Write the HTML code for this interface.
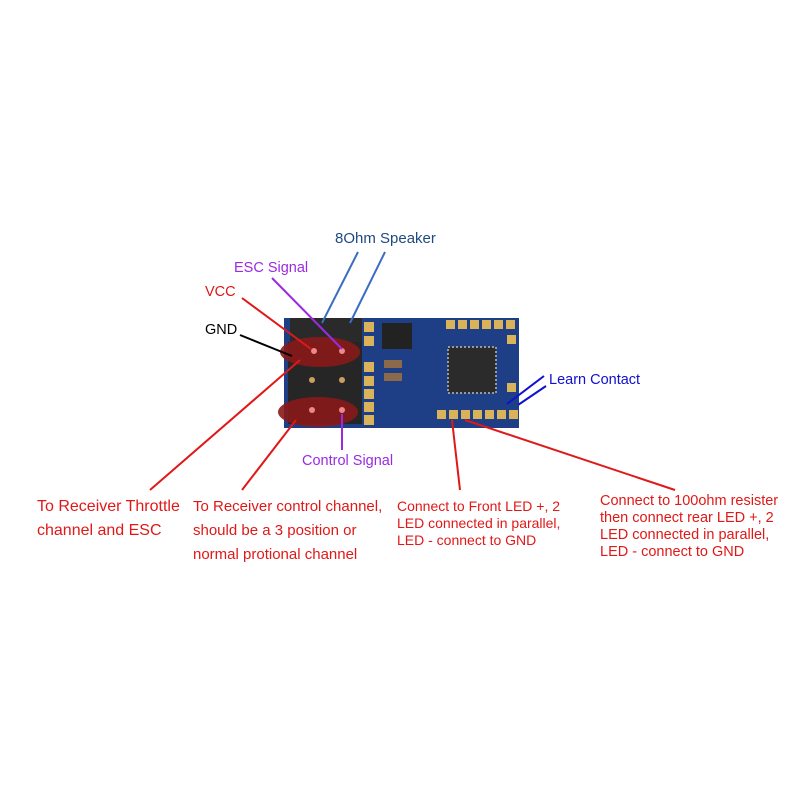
<!DOCTYPE html>
<html><head><style>body{margin:0;background:#fff}svg{display:block}text{font-family:"Liberation Sans",Arial,sans-serif}</style></head><body>
<svg width="800" height="800" viewBox="0 0 800 800" font-size="14">
<rect x="284" y="318" width="235" height="110" fill="#1e3f86"/>
<rect x="290" y="318" width="72" height="24" fill="#2a2a2a"/>
<rect x="288" y="342" width="74" height="82" fill="#262626"/>
<g fill="#d9b25a"><rect x="364" y="322" width="10" height="10"/><rect x="364" y="336" width="10" height="10"/>
<rect x="364" y="362" width="10" height="10"/><rect x="364" y="376" width="10" height="10"/><rect x="364" y="389" width="10" height="10"/><rect x="364" y="402" width="10" height="10"/><rect x="364" y="415" width="10" height="10"/>
<rect x="446" y="320" width="9" height="9"/><rect x="458" y="320" width="9" height="9"/><rect x="470" y="320" width="9" height="9"/><rect x="482" y="320" width="9" height="9"/><rect x="494" y="320" width="9" height="9"/><rect x="506" y="320" width="9" height="9"/>
<rect x="507" y="335" width="9" height="9"/><rect x="507" y="383" width="9" height="9"/>
<rect x="437" y="410" width="9" height="9"/><rect x="449" y="410" width="9" height="9"/><rect x="461" y="410" width="9" height="9"/><rect x="473" y="410" width="9" height="9"/><rect x="485" y="410" width="9" height="9"/><rect x="497" y="410" width="9" height="9"/><rect x="509" y="410" width="9" height="9"/></g>
<rect x="382" y="323" width="30" height="26" fill="#222"/>
<rect x="448" y="347" width="48" height="46" fill="#2b2b2b" stroke="#999" stroke-width="2" stroke-dasharray="2 2"/>
<rect x="384" y="360" width="18" height="8" fill="#8a6a4a"/><rect x="384" y="373" width="18" height="8" fill="#8a6a4a"/>
<ellipse cx="320" cy="352" rx="40" ry="15" fill="#8a1a1a" opacity="0.9"/>
<ellipse cx="318" cy="412" rx="40" ry="15" fill="#8a1a1a" opacity="0.9"/>
<g fill="#e88"><circle cx="314" cy="351" r="3"/><circle cx="342" cy="351" r="3"/><circle cx="312" cy="410" r="3"/><circle cx="342" cy="410" r="3"/></g>
<g fill="#c9a060"><circle cx="312" cy="380" r="3"/><circle cx="342" cy="380" r="3"/></g>
<g stroke-width="2" fill="none">
<line x1="358" y1="252" x2="322" y2="323" stroke="#3b6cc4"/>
<line x1="385" y1="252" x2="350" y2="323" stroke="#3b6cc4"/>
<line x1="272" y1="278" x2="342" y2="349" stroke="#9a2be0"/>
<line x1="242" y1="298" x2="311" y2="349" stroke="#e01818"/>
<line x1="240" y1="335" x2="292" y2="356" stroke="#000"/>
<line x1="300" y1="360" x2="150" y2="490" stroke="#e01818"/>
<line x1="296" y1="420" x2="242" y2="490" stroke="#e01818"/>
<line x1="342" y1="414" x2="342" y2="450" stroke="#9a2be0"/>
<line x1="452" y1="420" x2="460" y2="490" stroke="#e01818"/>
<line x1="465" y1="420" x2="675" y2="490" stroke="#e01818"/>
<line x1="544" y1="376" x2="507" y2="404" stroke="#1010d0"/>
<line x1="546" y1="386" x2="518" y2="405" stroke="#1010d0"/>
</g>
<text x="335" y="243" fill="#1f4a80" font-size="15">8Ohm Speaker</text>
<text x="234" y="272" fill="#9a2be0" font-size="14.5">ESC Signal</text>
<text x="205" y="296" fill="#e01818" font-size="14.5">VCC</text>
<text x="205" y="334" fill="#000" font-size="14.5">GND</text>
<text x="302" y="465" fill="#9a2be0" font-size="14.5">Control Signal</text>
<text x="549" y="384" fill="#1010d0" font-size="14.5">Learn Contact</text>
<g fill="#e01818">
<text x="37" y="511" font-size="16">To Receiver Throttle</text>
<text x="37" y="535" font-size="16">channel and ESC</text>
<text x="193" y="511" font-size="15">To Receiver control channel,</text>
<text x="193" y="535" font-size="15">should be a 3 position or</text>
<text x="193" y="559" font-size="15">normal protional channel</text>
<text x="397" y="511">Connect to Front LED +, 2</text>
<text x="397" y="528">LED connected in parallel,</text>
<text x="397" y="545">LED - connect to GND</text>
<text x="600" y="505" font-size="14.5">Connect to 100ohm resister</text>
<text x="600" y="522" font-size="14.5">then connect rear  LED +, 2</text>
<text x="600" y="539" font-size="14.5">LED connected in parallel,</text>
<text x="600" y="556" font-size="14.5">LED - connect to GND</text>
</g>
</svg></body></html>
